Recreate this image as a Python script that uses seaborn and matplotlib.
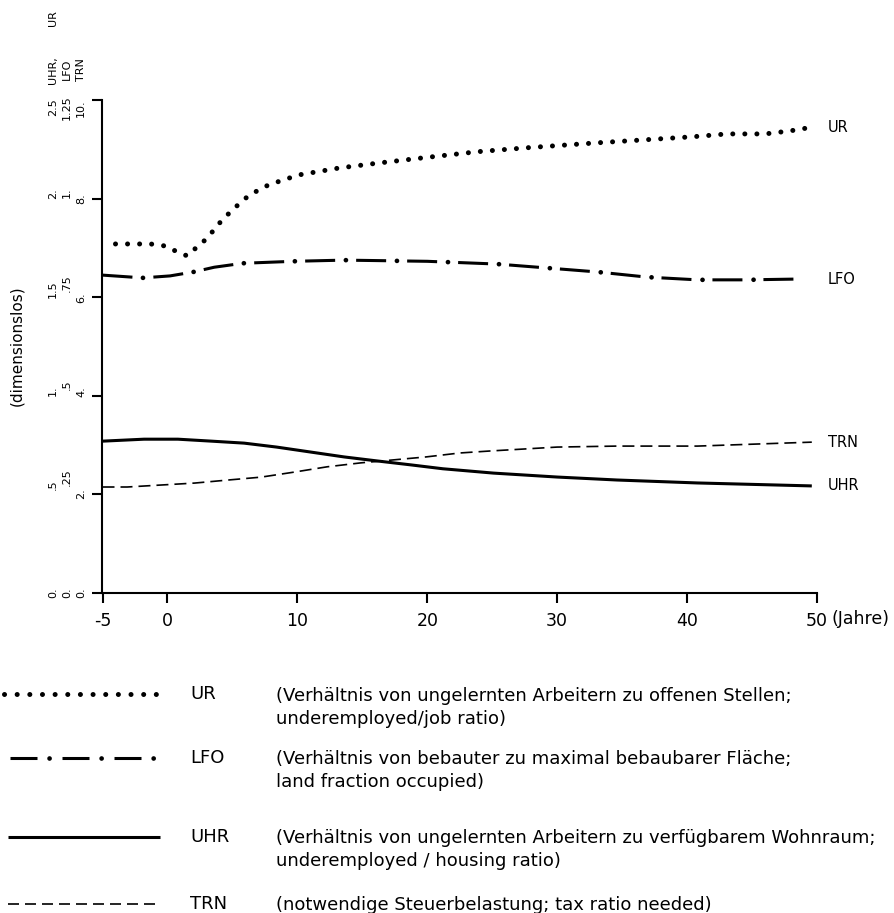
import matplotlib
matplotlib.use("Agg")
import matplotlib.pyplot as plt
import matplotlib.transforms as mtransforms
import pandas as pd
import seaborn as sns

# ---- simulated ratios over time (years) ----
years_ur = [-4.0, -1.3, -0.2, 0.6, 1.5, 2.2, 2.9, 3.5, 4.1, 5.0, 6.3, 7.8, 10.1,
            13.2, 16.2, 20.1, 23.9, 27.7, 33.1, 36.7, 40.3, 43.1, 46.0, 47.9, 49.7]
ur = [1.770, 1.770, 1.760, 1.735, 1.710, 1.750, 1.790, 1.835, 1.883, 1.943, 2.018,
      2.070, 2.120, 2.155, 2.180, 2.210, 2.238, 2.258, 2.283, 2.298, 2.313, 2.328,
      2.328, 2.343, 2.363]

years_lfo = [-5.0, -1.9, 0.2, 2.0, 3.6, 5.8, 9.7, 13.6, 20.0, 25.4, 28.5, 33.1,
             36.9, 40.8, 44.6, 48.5]
lfo = [0.806, 0.799, 0.804, 0.814, 0.826, 0.836, 0.841, 0.844, 0.841, 0.834,
       0.826, 0.814, 0.801, 0.794, 0.794, 0.796]

years_uhr = [-5.0, -1.8, 0.8, 3.4, 5.9, 8.4, 11.0, 13.6, 16.1, 18.7, 21.2, 25.1,
             30.0, 34.6, 40.8, 49.6]
uhr = [0.770, 0.780, 0.780, 0.770, 0.760, 0.740, 0.715, 0.690, 0.670, 0.650,
       0.630, 0.608, 0.588, 0.573, 0.558, 0.543]

years_trn = [-5.0, -3.1, -0.5, 2.1, 4.6, 7.2, 9.7, 12.3, 14.9, 17.4, 19.9, 22.5,
             24.8, 30.0, 34.6, 40.8, 49.6]
trn = [2.15, 2.15, 2.19, 2.23, 2.29, 2.35, 2.45, 2.56, 2.64, 2.70, 2.76, 2.84,
       2.88, 2.96, 2.98, 2.98, 3.06]

# ---- axis scales (one shared vertical axis, three labelled scales) ----
x_ticks = [-5, 0, 10, 20, 30, 40, 50]
scale_uhr_ur = [0.0, 0.5, 1.0, 1.5, 2.0, 2.5]
scale_lfo = [0.0, 0.25, 0.5, 0.75, 1.0, 1.25]
scale_trn = [0.0, 2.0, 4.0, 6.0, 8.0, 10.0]

legend_codes = ["UR", "LFO", "UHR", "TRN"]
legend_texts = [
    "(Verhältnis von ungelernten Arbeitern zu offenen Stellen;\nunderemployed/job ratio)",
    "(Verhältnis von bebauter zu maximal bebaubarer Fläche;\nland fraction occupied)",
    "(Verhältnis von ungelernten Arbeitern zu verfügbarem Wohnraum;\nunderemployed / housing ratio)",
    "(notwendige Steuerbelastung; tax ratio needed)",
]

# factors mapping each series onto the shared axis (TRN scale)
f_uhr_ur = scale_trn[-1] / scale_uhr_ur[-1]
f_lfo = scale_trn[-1] / scale_lfo[-1]

sns.set_style("ticks")
plt.rcParams["font.family"] = ["DejaVu Sans"]
plt.rcParams["text.color"] = "black"

W, H = 895, 913
fig = plt.figure(figsize=(W / 100, H / 100), dpi=100)
ax = fig.add_axes([102.5 / W, 1 - 593 / H, (817 - 102.5) / W, (593 - 100) / H])

px = 100 / 72  # pixels per point

def plot_series(x, y, lw):
    df = pd.DataFrame({"t": x, "v": y})
    sns.lineplot(data=df, x="t", y="v", ax=ax, color="black", linewidth=lw,
                 clip_on=False)
    return ax.lines[-1]

# UR: dotted
ur_axis = [v * f_uhr_ur for v in ur]
l_ur = plot_series(years_ur, ur_axis, 3.6)
l_ur.set_linestyle((0, (0.01, 12 / (3.6 * px))))
l_ur.set_dash_capstyle("round")

# LFO: long dash + dot
lfo_axis = [v * f_lfo for v in lfo]
l_lfo = plot_series(years_lfo, lfo_axis, 2.2)
l_lfo.set_linestyle((0, (30 / (2.2 * px), 21 / (2.2 * px))))
l_lfo.set_dash_capstyle("butt")
l_lfo_dot = plot_series(years_lfo, lfo_axis, 3.4)
l_lfo_dot.set_linestyle((10.5 / (3.4 * px), (0.01, 51 / (3.4 * px))))
l_lfo_dot.set_dash_capstyle("round")

# UHR: solid
uhr_axis = [v * f_uhr_ur for v in uhr]
l_uhr = plot_series(years_uhr, uhr_axis, 2.2)
l_uhr.set_solid_capstyle("butt")

# TRN: dashed
l_trn = plot_series(years_trn, trn, 1.2)
l_trn.set_linestyle((0, (12 / (1.2 * px), 6 / (1.2 * px))))

# end-of-line labels
for code, ys in [("UR", ur_axis), ("LFO", lfo_axis), ("TRN", trn), ("UHR", uhr_axis)]:
    ax.text(50.85, ys[-1], code, ha="left", va="center", fontsize=10.5, clip_on=False)

ax.set_xlim(-5, 50)
ax.set_ylim(0, 10)
ax.set_xticks(x_ticks)
ax.set_xticklabels([str(t) for t in x_ticks])
ax.set_yticks(scale_trn)
ax.set_yticklabels([])
ax.set_xlabel("")
ax.set_ylabel("")
for s in ["top", "right"]:
    ax.spines[s].set_visible(False)
for s in ["left", "bottom"]:
    ax.spines[s].set_linewidth(1.5)
    ax.spines[s].set_color("black")
ax.tick_params(direction="out", length=7.5, width=1.5, labelsize=12.5, pad=6,
               colors="black")

ax.text(51.1, -0.053, "(Jahre)", transform=ax.get_xaxis_transform(),
        ha="left", va="center", fontsize=12.5)

# three columns of vertical scale labels (hand-lettered offsets, in pixels)
def fmt(v):
    s = f"{v:g}"
    if "." in s:
        return s.lstrip("0")
    return s + "."

tr = mtransforms.blended_transform_factory(fig.transFigure, ax.transData)
columns = [
    (53 / W, scale_uhr_ur, [0, 10, 5, 8, 5, -7]),
    (67 / W, scale_lfo, [0, 17, 11, 14, 6, -8]),
    (81 / W, scale_trn, [0, 1, 4, 0, 0, -8]),
]
for xf, vals, lifts in columns:
    for pos, v, lift in zip(scale_trn, vals, lifts):
        t = mtransforms.offset_copy(tr, fig=fig, y=lift, units="dots")
        fig.text(xf, pos, fmt(v), transform=t, rotation=90, ha="center",
                 va="center", fontsize=8)

hdr = dict(rotation=90, ha="center", va="center", fontsize=8)
fig.text(53 / W, 1 - 70 / H, "UHR,", **hdr)
fig.text(53 / W, 1 - 18 / H, "UR", **hdr)
fig.text(67 / W, 1 - 69 / H, "LFO", **hdr)
fig.text(81 / W, 1 - 70 / H, "TRN", **hdr)

fig.text(17 / W, 1 - 346 / H, "(dimensionslos)", rotation=90, ha="center",
         va="center", fontsize=11)

# ---- legend block ----
lax = fig.add_axes([0, 0, 1, 270 / H])
lax.set_xlim(0, W)
lax.set_ylim(H, H - 270)
lax.axis("off")

rows = [694, 758, 837, 904]
k = lax.plot([4, 156], [rows[0]] * 2, color="black", lw=3.6)[0]
k.set_linestyle((0, (0.01, 12.6 / (3.6 * px))))
k.set_dash_capstyle("round")
k = lax.plot([10, 156], [rows[1]] * 2, color="black", lw=2.2)[0]
k.set_linestyle((0, (27 / (2.2 * px), 25 / (2.2 * px))))
k.set_dash_capstyle("butt")
k = lax.plot([10, 156], [rows[1]] * 2, color="black", lw=3.4)[0]
k.set_linestyle((13 / (3.4 * px), (0.01, 52 / (3.4 * px))))
k.set_dash_capstyle("round")
k = lax.plot([8, 160], [rows[2]] * 2, color="black", lw=2.2)[0]
k.set_solid_capstyle("butt")
k = lax.plot([8, 160], [rows[3]] * 2, color="black", lw=1.2)[0]
k.set_linestyle((0, (11 / (1.2 * px), 6 / (1.2 * px))))

desc_top = [687, 750, 829, 896]
for y, yt, code, txt in zip(rows, desc_top, legend_codes, legend_texts):
    lax.text(190, y, code, ha="left", va="center", fontsize=13)
    lax.text(276, yt, txt, ha="left", va="top", fontsize=13, linespacing=1.35)

fig.savefig("out.png", dpi=100)
